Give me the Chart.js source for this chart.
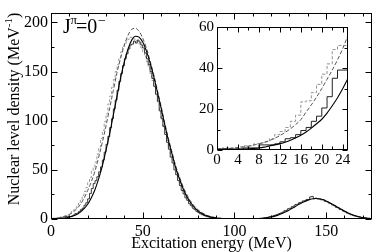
<!DOCTYPE html>
<html>
<head>
<meta charset="utf-8">
<script src="https://cdn.jsdelivr.net/npm/chart.js@4.4.1/dist/chart.umd.min.js"></script>
<style>
  html, body { margin: 0; padding: 0; background: #fff; }
  #wrap { position: relative; width: 374px; height: 252px; }
  #main { position: absolute; left: 0; top: 0; }
  #inset { position: absolute; left: 185px; top: 15px; }
</style>
</head>
<body>
<div id="wrap">
  <canvas id="main" width="374" height="252"></canvas>
  <canvas id="inset" width="170" height="156"></canvas>
</div>
<script>
// ===== DATA =====
// main panel: smooth curves sampled every 2 MeV
const mainX = [0,2,4,6,8,10,12,14,16,18,20,22,24,26,28,30,32,34,36,38,40,42,44,46,48,50,52,54,56,58,60,62,64,66,68,70,72,74,76,78,80,82,84,86,88,90,92,94,96,98,100,102,104,106,108,110,112,114,116,118,120,122,124,126,128,130,132,134,136,138,140,142,144,146,148,150,152,154,156,158,160,162,164,166,168,170,172,174];
const mainSolid = [0.05,0.15,0.3,0.6,1.0,1.9,3.0,4.6,7.0,10.5,15,21.6,30,41,54,70,87,106,125,144,160,173,182,186,185,180,171,159,145,129,113,96,80,66,52,41,31,23,17,12.2,8.5,5.9,3.9,2.6,1.65,1.0,0.6,0.35,0.2,0.1,0.05,0,0,0,0.05,0.1,0.3,0.5,0.8,1.3,2.0,2.9,4.1,5.6,7.3,9.3,11.4,13.6,15.7,17.6,19.2,20.3,20.8,20.6,19.8,18.4,16.6,14.5,12.3,10.2,8.1,6.2,4.6,3.3,2.3,1.5,0.9,0.6];
const mainDashed = [0.4,0.7,1.2,1.9,3.0,4.6,7,10.3,14.8,21,29,38,49,63,78,95,113,131,149,164,177,187,193,194,191,184,174,161,147,131,115,98,82,68,54,43,33,25,18.5,13.5,9.6,6.8,4.6,3.1,2.0,1.3,0.8,0.5,0.3,0.15,0.1];

// main panel histograms: 1 MeV bins starting at 0 MeV
const mainHist = [
  0,0.5,0.5,0.5,0.5,0.5,1,1,1,2.5,
  2.5,2.5,3,4,5.5,6,7.5,9.5,11,14,
  16.5,20.5,26,31,36,39,43,48,53,60,
  68,76,84,93,102,112,121,131,140,148,
  156,163,168,173,177,178,181,179,182,180,
  177,174,169,163,157,150,143,135,127,120,
  110,102,94,86,78,71,63,57,50,45,
  39,34,29,25.5,21.5,19,15.5,13.5,11,9.5,
  7.8,6.5,5.3,4.4,3.5,2.8,2.3,1.8,1.4,1.1,
  0.8,0.6,0.5,0.3,0.3,0.2,0.1,0.1,0,0,
  0,0,0,0,0,0,0,0,0,0,
  0,0.1,0.3,0.4,0.6,0.8,1.0,1.3,1.5,1.9,
  2.4,2.8,3.4,4.0,4.6,5.5,6.2,7.0,8.5,8.9,
  10.5,10.9,12.5,13.2,14.8,15.0,16.6,17.0,18.4,18.6,
  19.8,19.6,22.5,23.0,20.6,21.2,20.5,20.3,19.5,19.6,
  18.0,17.8,16.3,15.7,14.2,13.5,11.9,11.5,9.8,9.5,
  7.9,7.2,6.0,5.4,4.4,3.9,3.1,2.8,2.2,1.8,
  1.4,1.0,0.8,0.5,0.4
];
const mainHistGray = [
  0.5,0.5,1,1,1,1.5,2,2,3,3.5,
  4,5.5,7.5,9,11,14,17,20,24,28,
  32,37,42,49,53,58,66,73,82,90,
  99,107,117,125,134,142,150,157,164,170,
  175,178,182,183,185,184,183,182,180,178,
  174,170,165,160,154,148,141,134,126,119,
  111,103,95,88,80,73,66,60,53,48,
  42,37,33,28,25,21,18,15.5,13,11,
  9.3,7.8,6.5,5.5,4.5,3.8,3.1,2.5,2.0,1.6,
  1.3,1.0,0.8,0.6,0.5,0.4,0.3,0.2,0.1,0.1
];
const mainXTicks = [0,50,100,150];
const mainYTicks = [0,50,100,150,200];

// inset: 1 MeV steps
const insetX = [0,1,2,3,4,5,6,7,8,9,10,11,12,13,14,15,16,17,18,19,20,21,22,23,24,25];
const insetSolid = [0.05,0.1,0.15,0.2,0.3,0.45,0.6,0.8,1.0,1.4,2.0,2.5,3.1,3.8,4.7,5.9,7.2,8.8,10.7,12.8,15,18,21.6,25.5,30,35];
const insetDashed = [0.4,0.55,0.7,0.9,1.2,1.5,1.9,2.4,3.0,3.7,4.6,5.7,7,8.6,10.3,12.4,14.8,18.5,22,25.8,30,34.5,39,44,49.5,56];
const insetHist = [0,0.5,0.5,0.5,0.5,0.5,1,1,1,2.5,2.5,2.5,3,4,5.5,6,7.5,9.5,11,14,16.5,20.5,26,35,39];
const insetHistGray = [0.5,0.5,1,1,1,1.5,2,2,3,3.5,4,5.5,7.5,9,11,14,17,23.5,24,28,32,37,42,49,51];
const insetXTicks = [0,4,8,12,16,20,24];
const insetYTicks = [0,20,40,60];

const SERIF = "'Liberation Serif', 'Times New Roman', serif";

// ===== HELPERS =====
function pts(xs, ys) {
  return ys.map((y, i) => ({ x: xs[i], y }));
}
// histogram as a stepped line: bin i covers [x0 + i*w, x0 + (i+1)*w]
function steps(ys, x0, w) {
  const d = ys.map((y, i) => ({ x: x0 + i * w, y }));
  d.push({ x: x0 + ys.length * w, y: ys[ys.length - 1] });
  return d;
}

// box + inward ticks on all four sides
const frame = {
  id: 'frame',
  afterDraw(chart, args, o) {
    const { ctx, chartArea: a, scales: { x, y } } = chart;
    const L = Math.round(a.left) + 0.5, R = Math.round(a.right) - 0.5;
    const T = Math.round(a.top) + 0.5, B = Math.round(a.bottom) - 0.5;
    ctx.save();
    ctx.strokeStyle = '#000';
    ctx.lineWidth = 1;
    ctx.strokeRect(L, T, R - L, B - T);
    ctx.beginPath();
    for (let v = x.min; v <= x.max; v += o.xMinor) {
      const px = Math.round(x.getPixelForValue(v)) + 0.5;
      const len = v % o.xMajor === 0 ? o.major : o.minor;
      ctx.moveTo(px, B); ctx.lineTo(px, B - len);
      ctx.moveTo(px, T); ctx.lineTo(px, T + len);
    }
    for (let v = y.min; v <= y.max; v += o.yMinor) {
      const py = Math.round(y.getPixelForValue(v)) + 0.5;
      const len = v % o.yMajor === 0 ? o.major : o.minor;
      ctx.moveTo(L, py); ctx.lineTo(L + len, py);
      ctx.moveTo(R, py); ctx.lineTo(R - len, py);
    }
    ctx.stroke();
    ctx.restore();
  }
};

// axis titles and the J^pi label
const mainText = {
  id: 'mainText',
  afterDraw(chart) {
    const ctx = chart.ctx;
    ctx.save();
    ctx.fillStyle = '#000';
    ctx.textBaseline = 'alphabetic';
    ctx.font = '16px ' + SERIF;
    ctx.textAlign = 'center';
    ctx.fillText('Excitation energy (MeV)', (chart.chartArea.left + chart.chartArea.right) / 2, 248);

    // y title with superscript
    ctx.textAlign = 'left';
    const big = '16px ' + SERIF, small = '11px ' + SERIF;
    ctx.font = big; const w1 = ctx.measureText('Nuclear level density (MeV').width;
    ctx.font = small; const w2 = ctx.measureText('-1').width;
    ctx.font = big; const w3 = ctx.measureText(')').width;
    const tot = w1 + w2 + w3;
    ctx.translate(19, 109 + tot / 2);
    ctx.rotate(-Math.PI / 2);
    ctx.fillText('Nuclear level density (MeV', 0, 0);
    ctx.font = small; ctx.fillText('-1', w1, -7);
    ctx.font = big; ctx.fillText(')', w1 + w2, 0);
    ctx.setTransform(1, 0, 0, 1, 0, 0);

    // J^pi = 0^-
    ctx.textAlign = 'left';
    ctx.font = '20px ' + SERIF;
    ctx.fillText('J', 63, 33);
    ctx.font = '13px ' + SERIF;
    ctx.fillText('\u03c0', 70.5, 24);
    ctx.font = '20px ' + SERIF;
    ctx.fillText('=0', 76, 33);
    ctx.font = '14px ' + SERIF;
    ctx.fillText('\u2212', 98, 25);
    ctx.restore();
  }
};

Chart.defaults.font.family = SERIF;
Chart.defaults.color = '#000';
Chart.defaults.animation = false;

function lineDs(data, color, dash, width, stepped) {
  return {
    data, borderColor: color, borderWidth: width, borderDash: dash,
    pointRadius: 0, fill: false, stepped: stepped || false,
    cubicInterpolationMode: stepped ? 'default' : 'monotone'
  };
}

function axes(xMin, xMax, xTicks, yMin, yMax, yTicks, yWidth, xHeight, fontSize, pad) {
  return {
    x: {
      type: 'linear', min: xMin, max: xMax,
      grid: { display: false, drawTicks: false }, border: { display: false },
      afterBuildTicks: s => { s.ticks = xTicks.map(v => ({ value: v })); },
      afterFit: s => { s.height = xHeight; },
      ticks: { font: { family: SERIF, size: fontSize }, padding: pad, maxRotation: 0, autoSkip: false }
    },
    y: {
      type: 'linear', min: yMin, max: yMax,
      grid: { display: false, drawTicks: false }, border: { display: false },
      afterBuildTicks: s => { s.ticks = yTicks.map(v => ({ value: v })); },
      afterFit: s => { s.width = yWidth; },
      ticks: { font: { family: SERIF, size: fontSize }, padding: 3, autoSkip: false }
    }
  };
}

// ===== MAIN CHART =====
new Chart(document.getElementById('main'), {
  type: 'line',
  data: {
    datasets: [
      lineDs(pts(mainX, mainSolid), '#000', [], 1.1),
      lineDs(steps(mainHist, 0, 1), '#222', [], 0.9, 'after'),
      lineDs(pts(mainX, mainDashed), '#555', [4, 2], 1),
      lineDs(steps(mainHistGray, 0, 1), '#909090', [3, 2], 0.9, 'after')
    ]
  },
  options: {
    responsive: false,
    layout: { padding: { left: 0, right: 2, top: 1, bottom: 0 } },
    scales: axes(0, 175, mainXTicks, 0, 210, mainYTicks, 51, 33, 16, 3),
    plugins: {
      legend: { display: false }, tooltip: { enabled: false },
      frame: { xMinor: 10, xMajor: 50, yMinor: 25, yMajor: 50, major: 6, minor: 3 }
    }
  },
  plugins: [frame, mainText]
});

// ===== INSET =====
new Chart(document.getElementById('inset'), {
  type: 'line',
  data: {
    datasets: [
      lineDs(pts(insetX, insetSolid), '#000', [], 1.1),
      lineDs(steps(insetHist, 0, 1), '#222', [], 1, 'after'),
      lineDs(pts(insetX, insetDashed), '#555', [4, 2], 1),
      lineDs(steps(insetHistGray, 0, 1), '#909090', [3, 2], 1, 'after')
    ]
  },
  options: {
    responsive: false,
    layout: { padding: { left: 0, right: 7, top: 8, bottom: 0 } },
    scales: axes(0, 25, insetXTicks, 0, 60, insetYTicks, 32, 21, 15, 1),
    plugins: {
      legend: { display: false }, tooltip: { enabled: false },
      frame: { xMinor: 2, xMajor: 4, yMinor: 10, yMajor: 20, major: 5, minor: 3 }
    }
  },
  plugins: [frame]
});
</script>
</body>
</html>
